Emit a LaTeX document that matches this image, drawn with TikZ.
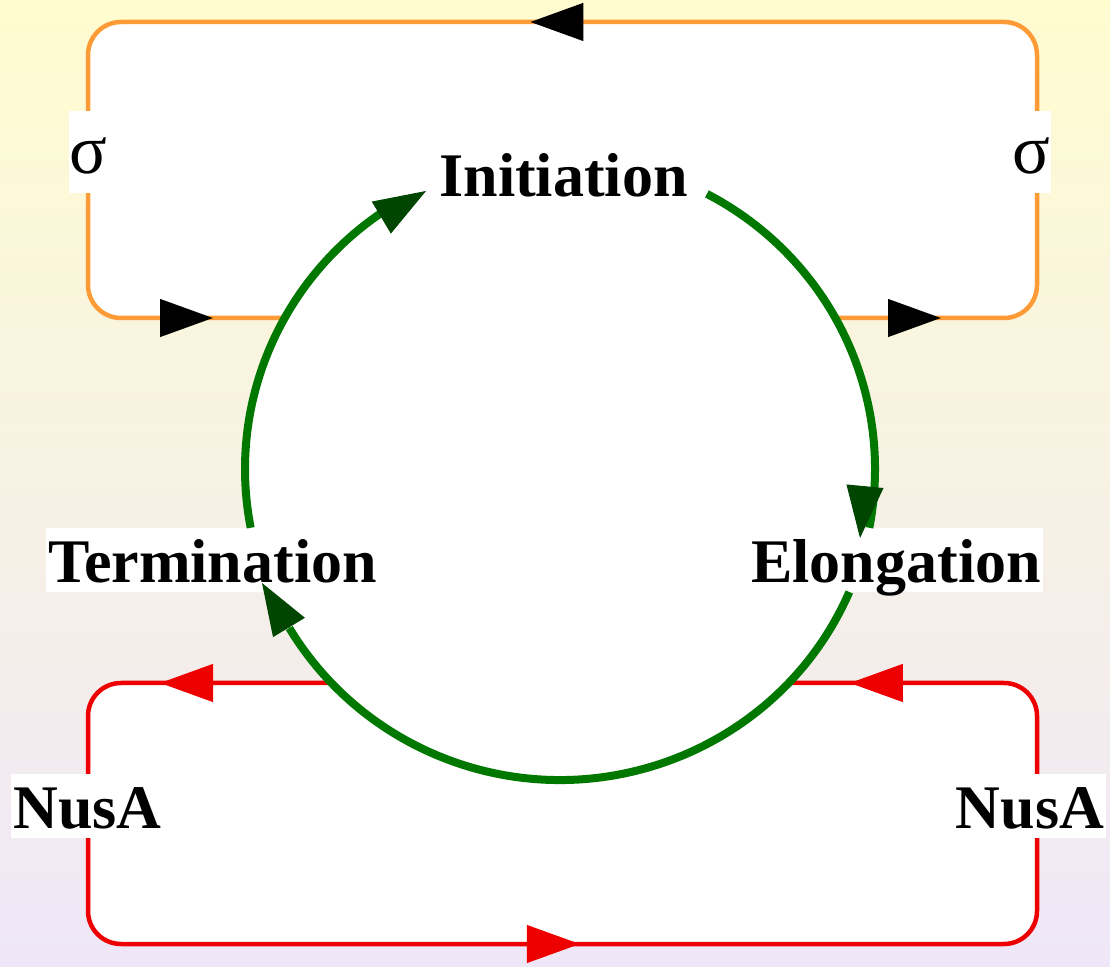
\documentclass[tikz,border=0pt]{standalone}
\usepackage{fontspec}
\setmainfont{Liberation Serif}
\usetikzlibrary{arrows.meta,decorations.markings}
\definecolor{bgtop}{RGB}{255,252,208}
\definecolor{bgbot}{RGB}{239,231,248}
\definecolor{orng}{RGB}{255,155,55}
\definecolor{rd}{RGB}{238,0,0}
\definecolor{grn}{RGB}{0,120,0}
\definecolor{dgrn}{RGB}{0,70,0}
\begin{document}
\begin{tikzpicture}[x=1pt,y=1pt,
  lbl/.style={font=\bfseries\fontsize{62}{62}\selectfont, fill=white, inner xsep=2pt, inner ysep=0pt, text height=55pt, text depth=9pt, anchor=base},
  sig/.style={font=\fontsize{70}{70}\selectfont, fill=white, inner xsep=1pt, inner ysep=0pt, text height=63pt, text depth=19pt, anchor=base},
  cyc/.style={draw=grn, line width=8pt},
  cyctip/.style={draw=dgrn, line width=1pt, -{Triangle[length=52pt,width=37pt,color=dgrn,fill=dgrn]}},
  loopO/.style={draw=orng, line width=4.5pt, rounded corners=33pt},
  loopR/.style={draw=rd, line width=4.5pt, rounded corners=33pt},
  tips/.style n args={4}{postaction={decorate}, decoration={markings,
     mark=at position #1 with {\arrow{Triangle[length=53pt,width=37pt,color=#4,fill=#4]}},
     mark=at position #2 with {\arrow{Triangle[length=53pt,width=37pt,color=#4,fill=#4]}},
     mark=at position #3 with {\arrow{Triangle[length=53pt,width=37pt,color=#4,fill=#4]}}}},
]
\useasboundingbox (0,0) rectangle (1110,966);
\shade[top color=bgtop, bottom color=bgbot] (0,0) rectangle (1110,966);

% white regions
\fill[white, rounded corners=33pt] (88,648) rectangle (1037,944);
\fill[white, rounded corners=33pt] (88,22) rectangle (1037,283);

\coordinate (ctr) at (560,497);
\coordinate (o1) at (835.4,648);
\coordinate (o2) at (284.6,648);
\coordinate (r1) at (331.4,283);
\coordinate (r2) at (788.6,283);

% sigma loop
\draw[loopO, tips={105.6pt}{976pt}{1811pt}{black}] (o1) -- (1037,648) -- (1037,944) -- (88,944) -- (88,648) -- (o2);
% NusA loop
\draw[loopR, tips={171.4pt}{968pt}{1845pt}{rd}] (r1) -- (88,283) -- (88,22) -- (1037,22) -- (1037,283) -- (r2);

% white cycle disc
\fill[white] (ctr) ellipse[x radius=315pt, y radius=311pt];

% labels
\node[lbl] (init) at (563.5,769) {Initiation};
\node[lbl] (elong) at (896,383) {Elongation};
\node[lbl] (term) at (212.5,383) {Termination};
\node[lbl] (nusL) at (87.5,137) {NusA};
\node[lbl] (nusR) at (1030,137) {NusA};
\node[sig] (sigL) at (88.5,792) {σ};
\node[sig] (sigR) at (1031,792) {σ};

% cycle arcs
\path (ctr) ++(62.2:315pt and 311pt) coordinate (a1);
\path (ctr) ++(-23.3:315pt and 311pt) coordinate (a2);
\path (ctr) ++(190.9:315pt and 311pt) coordinate (a3);
\draw[cyc] (a1) arc[start angle=62.2, end angle=-10.9, x radius=315pt, y radius=311pt];
\draw[cyc] (a2) arc[start angle=-23.3, end angle=-149.25, x radius=315pt, y radius=311pt];
\draw[cyc] (a3) arc[start angle=190.9, end angle=124.5, x radius=315pt, y radius=311pt];

% arrowheads into the labels
\coordinate (b1) at (865,480);   \coordinate (t1) at (860,428);
\coordinate (b2) at (289.3,338); \coordinate (t2) at (262,383);
\coordinate (b3) at (381.5,748.5); \coordinate (t3) at (426,775);
\draw[cyctip] (b1) -- (t1);
\draw[cyctip] (b2) -- (t2);
\draw[cyctip] (b3) -- (t3);
\end{tikzpicture}
\end{document}
